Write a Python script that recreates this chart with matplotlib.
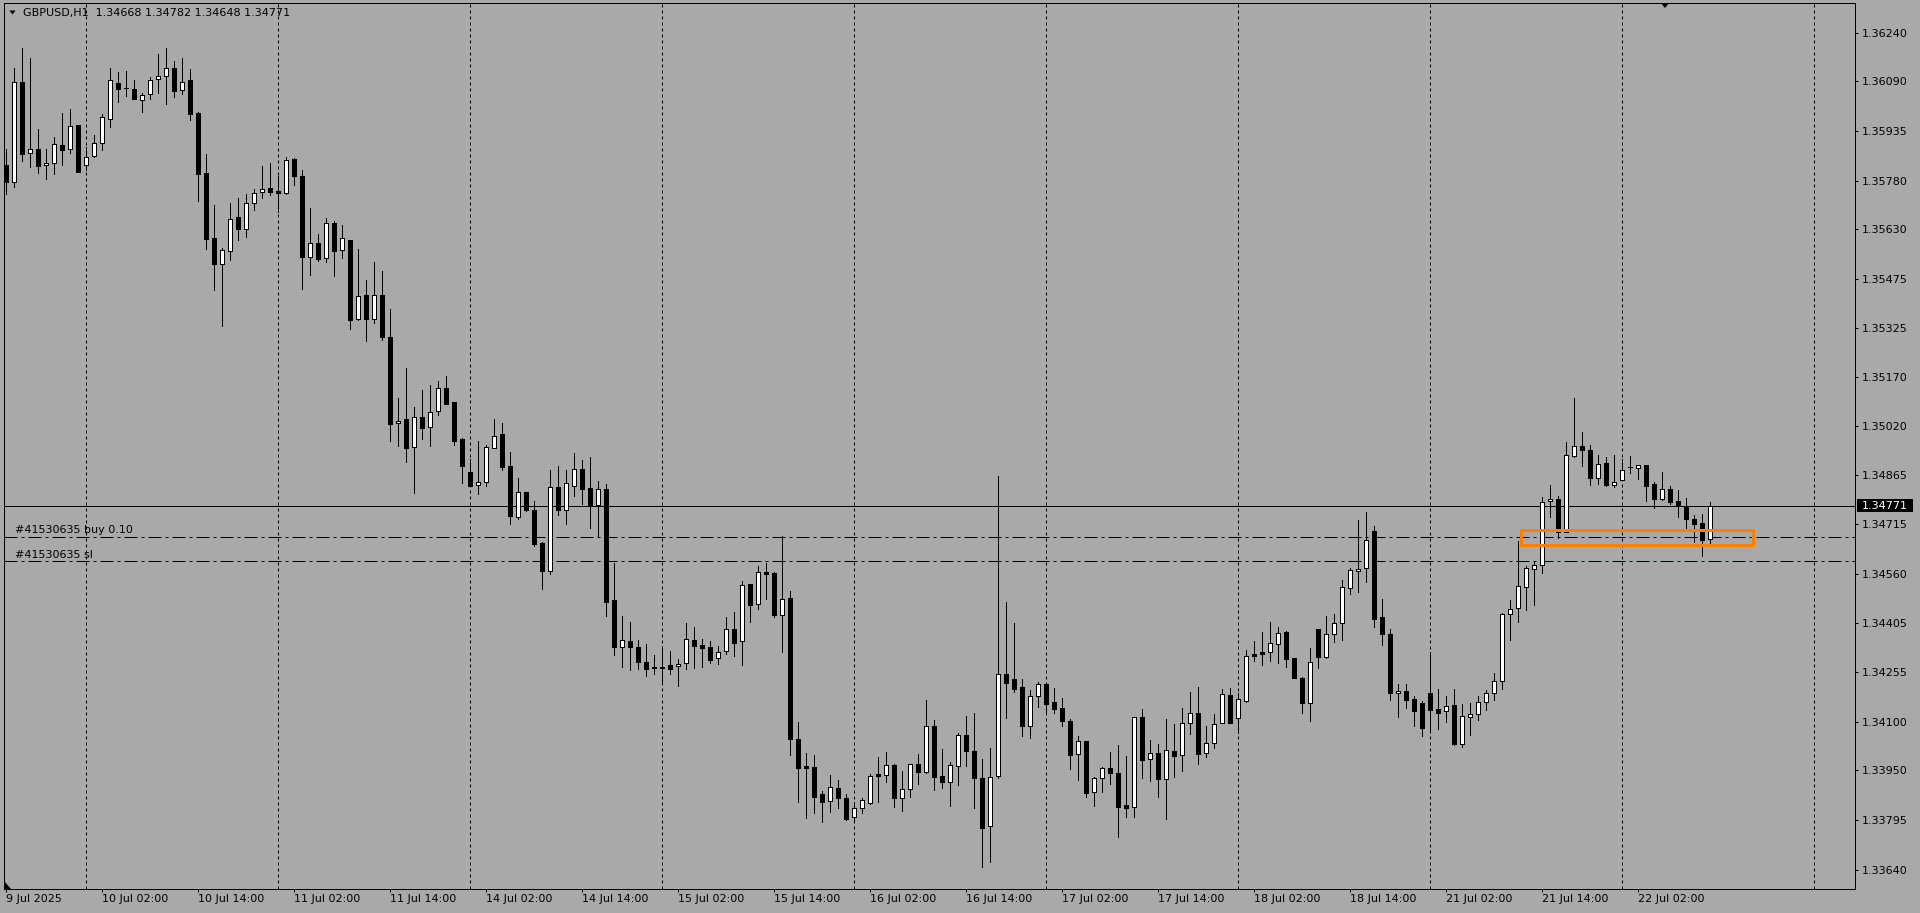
import matplotlib
matplotlib.use("Agg")
import matplotlib.pyplot as plt
from matplotlib.patches import Rectangle, Polygon
from matplotlib.transforms import IdentityTransform
import numpy as np

# GBPUSD H1 candles (oldest first)
symbol = "GBPUSD,H1"
opens = [
    1.35830, 1.35778, 1.36087, 1.35867, 1.35879, 1.35829, 1.35835, 1.35891, 1.35879, 1.35954,
    1.35829, 1.35857, 1.35900, 1.35974, 1.36085, 1.36069, 1.36066, 1.36031, 1.36050, 1.36097,
    1.36106, 1.36131, 1.36062, 1.36094, 1.35992, 1.35804, 1.35602, 1.35523, 1.35562, 1.35668,
    1.35632, 1.35711, 1.35745, 1.35758, 1.35748, 1.35744, 1.35848, 1.35795, 1.35545, 1.35587,
    1.35540, 1.35650, 1.35565, 1.35597, 1.35350, 1.35425, 1.35353, 1.35425, 1.35297, 1.35027,
    1.35040, 1.34952, 1.35046, 1.35015, 1.35064, 1.35136, 1.35093, 1.34978, 1.34875, 1.34834,
    1.34845, 1.34951, 1.34994, 1.34893, 1.34737, 1.34814, 1.34759, 1.34655, 1.34569, 1.34828,
    1.34757, 1.34833, 1.34885, 1.34825, 1.34774, 1.34822, 1.34477, 1.34333, 1.34350, 1.34332,
    1.34285, 1.34270, 1.34269, 1.34276, 1.34272, 1.34281, 1.34353, 1.34338, 1.34332, 1.34297,
    1.34319, 1.34387, 1.34349, 1.34528, 1.34464, 1.34565, 1.34562, 1.34430, 1.34483, 1.34045,
    1.33961, 1.33958, 1.33875, 1.33852, 1.33893, 1.33862, 1.33802, 1.33830, 1.33848, 1.33937,
    1.33934, 1.33965, 1.33861, 1.33889, 1.33967, 1.33942, 1.34085, 1.33931, 1.33911, 1.33961,
    1.34057, 1.34008, 1.33924, 1.33776, 1.33930, 1.34248, 1.34231, 1.34206, 1.34087, 1.34178,
    1.34216, 1.34160, 1.34141, 1.34102, 1.34000, 1.34040, 1.33880, 1.33924, 1.33957, 1.33939,
    1.33840, 1.33833, 1.34113, 1.33983, 1.34001, 1.33922, 1.34008, 1.33995, 1.34095, 1.34126,
    1.34001, 1.34032, 1.34095, 1.34181, 1.34110, 1.34165, 1.34309, 1.34316, 1.34316, 1.34340,
    1.34378, 1.34297, 1.34235, 1.34157, 1.34387, 1.34302, 1.34371, 1.34405, 1.34516, 1.34569,
    1.34578, 1.34692, 1.34425, 1.34372, 1.34188, 1.34194, 1.34170, 1.34158, 1.34189, 1.34138,
    1.34132, 1.34151, 1.34029, 1.34115, 1.34122, 1.34160, 1.34189, 1.34227, 1.34433, 1.34452,
    1.34519, 1.34573, 1.34586, 1.34785, 1.34791, 1.34689, 1.34926, 1.34957, 1.34944, 1.34858,
    1.34903, 1.34836, 1.34851, 1.34890, 1.34889, 1.34899, 1.34837, 1.34792, 1.34822, 1.34785,
    1.34769, 1.34729, 1.34716, 1.34668,
]
highs = [
    1.35880, 1.36133, 1.36193, 1.36162, 1.35942, 1.35880, 1.35916, 1.35991, 1.36004, 1.35954,
    1.35885, 1.35923, 1.35988, 1.36131, 1.36119, 1.36122, 1.36094, 1.36053, 1.36103, 1.36175,
    1.36193, 1.36153, 1.36162, 1.36128, 1.35996, 1.35864, 1.35706, 1.35571, 1.35711, 1.35727,
    1.35740, 1.35755, 1.35827, 1.35835, 1.35796, 1.35854, 1.35851, 1.35814, 1.35696, 1.35616,
    1.35665, 1.35656, 1.35644, 1.35597, 1.35569, 1.35473, 1.35529, 1.35501, 1.35383, 1.35106,
    1.35199, 1.35079, 1.35131, 1.35146, 1.35160, 1.35174, 1.35093, 1.34981, 1.34916, 1.34971,
    1.34960, 1.35041, 1.35027, 1.34938, 1.34856, 1.34814, 1.34786, 1.34659, 1.34882, 1.34893,
    1.34882, 1.34935, 1.34913, 1.34922, 1.34848, 1.34838, 1.34592, 1.34428, 1.34409, 1.34353,
    1.34341, 1.34307, 1.34336, 1.34319, 1.34293, 1.34406, 1.34394, 1.34357, 1.34350, 1.34336,
    1.34424, 1.34441, 1.34537, 1.34528, 1.34584, 1.34594, 1.34565, 1.34677, 1.34506, 1.34099,
    1.34002, 1.33996, 1.33884, 1.33934, 1.33918, 1.33876, 1.33851, 1.33861, 1.33937, 1.33991,
    1.34005, 1.33968, 1.33946, 1.33967, 1.33999, 1.34167, 1.34105, 1.34015, 1.33974, 1.34064,
    1.34117, 1.34128, 1.33984, 1.34019, 1.34863, 1.34472, 1.34405, 1.34231, 1.34198, 1.34222,
    1.34216, 1.34203, 1.34172, 1.34108, 1.34055, 1.34040, 1.33928, 1.33959, 1.34005, 1.34027,
    1.33993, 1.34113, 1.34139, 1.34043, 1.34029, 1.34108, 1.34092, 1.34143, 1.34192, 1.34206,
    1.34086, 1.34122, 1.34201, 1.34204, 1.34189, 1.34322, 1.34350, 1.34378, 1.34408, 1.34394,
    1.34382, 1.34297, 1.34239, 1.34328, 1.34387, 1.34428, 1.34434, 1.34540, 1.34576, 1.34727,
    1.34751, 1.34708, 1.34481, 1.34388, 1.34217, 1.34217, 1.34178, 1.34165, 1.34317, 1.34201,
    1.34178, 1.34200, 1.34154, 1.34157, 1.34178, 1.34198, 1.34252, 1.34436, 1.34478, 1.34660,
    1.34584, 1.34597, 1.34798, 1.34835, 1.34801, 1.34969, 1.35105, 1.34999, 1.34959, 1.34929,
    1.34924, 1.34929, 1.34917, 1.34927, 1.34899, 1.34899, 1.34846, 1.34875, 1.34832, 1.34819,
    1.34794, 1.34742, 1.34745, 1.34782,
]
lows = [
    1.35739, 1.35763, 1.35844, 1.35823, 1.35806, 1.35788, 1.35802, 1.35831, 1.35868, 1.35809,
    1.35815, 1.35856, 1.35877, 1.35949, 1.36027, 1.36046, 1.36035, 1.35996, 1.36036, 1.36055,
    1.36021, 1.36043, 1.36052, 1.35971, 1.35719, 1.35569, 1.35442, 1.35331, 1.35535, 1.35597,
    1.35607, 1.35690, 1.35729, 1.35737, 1.35685, 1.35740, 1.35768, 1.35445, 1.35488, 1.35533,
    1.35530, 1.35485, 1.35542, 1.35320, 1.35348, 1.35284, 1.35340, 1.35286, 1.34973, 1.34958,
    1.34907, 1.34810, 1.34978, 1.34958, 1.35053, 1.35088, 1.34960, 1.34842, 1.34833, 1.34808,
    1.34833, 1.34951, 1.34882, 1.34715, 1.34731, 1.34756, 1.34647, 1.34513, 1.34559, 1.34742,
    1.34715, 1.34801, 1.34776, 1.34703, 1.34678, 1.34429, 1.34307, 1.34270, 1.34261, 1.34263,
    1.34242, 1.34248, 1.34216, 1.34248, 1.34211, 1.34264, 1.34268, 1.34270, 1.34282, 1.34279,
    1.34311, 1.34304, 1.34277, 1.34410, 1.34451, 1.34481, 1.34424, 1.34317, 1.33997, 1.33851,
    1.33801, 1.33817, 1.33789, 1.33820, 1.33832, 1.33794, 1.33794, 1.33815, 1.33843, 1.33851,
    1.33913, 1.33835, 1.33823, 1.33866, 1.33906, 1.33939, 1.33887, 1.33894, 1.33838, 1.33903,
    1.33961, 1.33832, 1.33649, 1.33664, 1.33925, 1.34112, 1.34193, 1.34056, 1.34048, 1.34146,
    1.34128, 1.34128, 1.34087, 1.33953, 1.33919, 1.33866, 1.33838, 1.33882, 1.33907, 1.33742,
    1.33804, 1.33804, 1.33925, 1.33915, 1.33865, 1.33798, 1.33929, 1.33947, 1.34062, 1.33969,
    1.33991, 1.34019, 1.34095, 1.34096, 1.34063, 1.34162, 1.34289, 1.34277, 1.34288, 1.34282,
    1.34270, 1.34236, 1.34128, 1.34103, 1.34266, 1.34298, 1.34348, 1.34353, 1.34497, 1.34503,
    1.34535, 1.34395, 1.34339, 1.34167, 1.34115, 1.34142, 1.34087, 1.34056, 1.34074, 1.34078,
    1.34100, 1.34028, 1.34022, 1.34058, 1.34105, 1.34136, 1.34168, 1.34201, 1.34353, 1.34410,
    1.34447, 1.34462, 1.34563, 1.34737, 1.34670, 1.34689, 1.34921, 1.34894, 1.34835, 1.34839,
    1.34833, 1.34830, 1.34851, 1.34873, 1.34853, 1.34786, 1.34765, 1.34788, 1.34775, 1.34737,
    1.34699, 1.34659, 1.34615, 1.34648,
]
closes = [
    1.35778, 1.36087, 1.35864, 1.35879, 1.35828, 1.35835, 1.35895, 1.35878, 1.35950, 1.35809,
    1.35854, 1.35898, 1.35979, 1.36094, 1.36067, 1.36069, 1.36036, 1.36047, 1.36094, 1.36108,
    1.36131, 1.36061, 1.36089, 1.35990, 1.35803, 1.35601, 1.35523, 1.35565, 1.35661, 1.35632,
    1.35711, 1.35742, 1.35757, 1.35747, 1.35744, 1.35845, 1.35797, 1.35545, 1.35587, 1.35539,
    1.35650, 1.35564, 1.35602, 1.35349, 1.35422, 1.35352, 1.35425, 1.35296, 1.35026, 1.35035,
    1.34951, 1.35046, 1.35014, 1.35063, 1.35136, 1.35088, 1.34973, 1.34894, 1.34833, 1.34845,
    1.34952, 1.34988, 1.34891, 1.34740, 1.34814, 1.34759, 1.34653, 1.34569, 1.34828, 1.34757,
    1.34842, 1.34885, 1.34824, 1.34774, 1.34822, 1.34473, 1.34333, 1.34352, 1.34332, 1.34285,
    1.34264, 1.34266, 1.34268, 1.34264, 1.34278, 1.34356, 1.34336, 1.34330, 1.34292, 1.34316,
    1.34387, 1.34345, 1.34523, 1.34463, 1.34564, 1.34560, 1.34431, 1.34480, 1.34047, 1.33956,
    1.33956, 1.33866, 1.33851, 1.33896, 1.33861, 1.33796, 1.33830, 1.33856, 1.33931, 1.33930,
    1.33964, 1.33861, 1.33889, 1.33967, 1.33944, 1.34085, 1.33929, 1.33913, 1.33964, 1.34057,
    1.34009, 1.33924, 1.33770, 1.33928, 1.34248, 1.34219, 1.34202, 1.34087, 1.34178, 1.34216,
    1.34156, 1.34140, 1.34103, 1.33997, 1.34038, 1.33878, 1.33924, 1.33956, 1.33941, 1.33835,
    1.33832, 1.34113, 1.33981, 1.34001, 1.33922, 1.34011, 1.33994, 1.34095, 1.34126, 1.34000,
    1.34032, 1.34091, 1.34185, 1.34096, 1.34170, 1.34303, 1.34305, 1.34311, 1.34343, 1.34374,
    1.34295, 1.34236, 1.34159, 1.34286, 1.34302, 1.34371, 1.34405, 1.34517, 1.34570, 1.34575,
    1.34663, 1.34420, 1.34373, 1.34189, 1.34194, 1.34168, 1.34134, 1.34081, 1.34137, 1.34128,
    1.34147, 1.34030, 1.34116, 1.34122, 1.34160, 1.34189, 1.34227, 1.34433, 1.34449, 1.34521,
    1.34576, 1.34586, 1.34782, 1.34791, 1.34689, 1.34929, 1.34957, 1.34944, 1.34858, 1.34902,
    1.34836, 1.34845, 1.34882, 1.34890, 1.34899, 1.34833, 1.34792, 1.34822, 1.34783, 1.34769,
    1.34731, 1.34715, 1.34664, 1.34771,
]

# time axis: a label every 12 bars starting at bar 0, dotted grid every 24 bars from bar 10
date_labels = [
    "9 Jul 2025", "10 Jul 02:00", "10 Jul 14:00", "11 Jul 02:00", "11 Jul 14:00",
    "14 Jul 02:00", "14 Jul 14:00", "15 Jul 02:00", "15 Jul 14:00", "16 Jul 02:00",
    "16 Jul 14:00", "17 Jul 02:00", "17 Jul 14:00", "18 Jul 02:00", "18 Jul 14:00",
    "21 Jul 02:00", "21 Jul 14:00", "22 Jul 02:00",
]
label_every = 12
grid_start = 10
grid_every = 24

price_ticks = [
    1.36240, 1.36090, 1.35935, 1.35780, 1.35630, 1.35475, 1.35325, 1.35170, 1.35020,
    1.34865, 1.34715, 1.34560, 1.34405, 1.34255, 1.34100, 1.33950, 1.33795, 1.33640,
]

# order lines and the marked zone
order_ticket = "#41530635"
order_open = 1.34673
order_sl = 1.34598
zone_bars = (189.4, 218.4)
zone_prices = (1.34650, 1.34694)

W, H, DPI = 1920, 913, 100
BG = "#a9a9a9"
PX = 72.0 / DPI  # one pixel in points

plt.rcParams["font.family"] = ["DejaVu Sans"]
plt.rcParams["font.size"] = 8
plt.rcParams["lines.scale_dashes"] = False

fig = plt.figure(figsize=(W / DPI, H / DPI), dpi=DPI, facecolor=BG)
ax = fig.add_axes([4.3 / W, 1 - 889 / H, (1855 - 4.3) / W, (889 - 2.9) / H], facecolor=BG)

o = np.array(opens)
hi = np.array(highs)
lo = np.array(lows)
c = np.array(closes)
x = np.arange(len(o))
bull = c > o

# vertical dotted grid
for gx in range(grid_start, 232, grid_every):
    ax.axvline(gx, color="black", lw=PX, ls=(0, (3 * PX, 3 * PX)), zorder=1)

# current price and order lines
last_close = closes[-1]
ax.axhline(last_close, color="black", lw=PX, zorder=1)
dashdot = (0, (13 * PX, 4 * PX, 3 * PX, 4 * PX))
ax.axhline(order_open, color="black", lw=PX, ls=dashdot, zorder=1)
ax.axhline(order_sl, color="black", lw=PX, ls=dashdot, zorder=1)

# candles
ax.vlines(x, lo, hi, color="black", lw=PX, zorder=2, antialiased=False)
ax.bar(x, np.abs(c - o), bottom=np.minimum(o, c), width=0.5,
       color=np.where(bull, "white", "black"), edgecolor="black",
       linewidth=PX, zorder=3, antialiased=False)

# orange zone
ax.add_patch(Rectangle((zone_bars[0], zone_prices[0]), zone_bars[1] - zone_bars[0],
                       zone_prices[1] - zone_prices[0], fill=False,
                       edgecolor="#ff8000", lw=3 * PX, zorder=4, clip_on=False))

# order labels
ax.text(1.2, 1.34695, f"{order_ticket} buy 0.10", ha="left", va="center", zorder=5)
ax.text(1.2, 1.34618, f"{order_ticket} sl", ha="left", va="center", zorder=5)

ax.set_xlim(-0.175, 231.16)
ax.set_ylim(1.335794, 1.363342)

ax.set_xticks(range(0, label_every * len(date_labels), label_every))
ax.set_xticklabels(date_labels, ha="left")
ax.yaxis.tick_right()
ax.set_yticks(price_ticks)
ax.set_yticklabels([f"{p:.5f}" for p in price_ticks])
ax.tick_params(axis="both", direction="out", length=3 * PX, width=PX,
               colors="black", labelsize=8)
ax.tick_params(axis="x", pad=2.2 * PX)
ax.tick_params(axis="y", pad=4 * PX)
for s in ax.spines.values():
    s.set_color("black")
    s.set_linewidth(PX)

# current price box on the price scale
ytr = ax.get_yaxis_transform()
box_h = 13.3 * (1.363342 - 1.335794) / 886.1
ax.add_patch(Rectangle((1.0011, last_close - box_h / 2), 0.0303, box_h, transform=ytr,
                       facecolor="black", edgecolor="none", clip_on=False, zorder=6))
ax.text(1.0038, last_close, f"{last_close:.5f}", transform=ytr, color="white",
        ha="left", va="center", clip_on=False, zorder=7)

# header
fig.text(23 / W, 1 - 13 / H,
         f"{symbol}  {opens[-1]:.5f} {highs[-1]:.5f} {lows[-1]:.5f} {closes[-1]:.5f}",
         ha="left", va="center", color="black")

# small triangles of the terminal window
ident = IdentityTransform()
fig.add_artist(Polygon([[9.5, H - 10.5], [15.5, H - 10.5], [12.5, H - 14.5]],
                       closed=True, facecolor="black", edgecolor="none", transform=ident))
fig.add_artist(Polygon([[1661, H - 3], [1669, H - 3], [1665, H - 8]],
                       closed=True, facecolor="black", edgecolor="none", transform=ident))
fig.add_artist(Polygon([[4.5, H - 881.5], [4.5, H - 889], [11, H - 889]],
                       closed=True, facecolor="black", edgecolor="none", transform=ident))

fig.savefig("out.png", dpi=DPI, facecolor=BG)
